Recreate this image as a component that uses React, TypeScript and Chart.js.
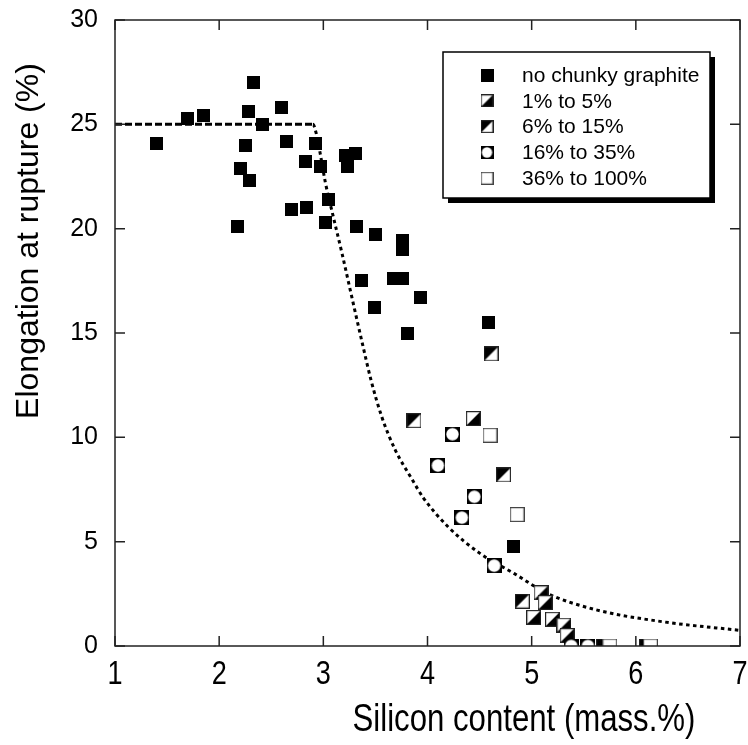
import React, { useEffect, useRef } from 'react';
import { Chart, registerables } from 'chart.js';

Chart.register(...registerables);

// ---- data ----
const seriesLabels = ['no chunky graphite', '1% to 5%', '6% to 15%', '16% to 35%', '36% to 100%'];

const noChunkyX = [1.40, 1.70, 1.85, 2.18, 2.20, 2.25, 2.28, 2.29, 2.33, 2.42, 2.60, 2.65, 2.69, 2.83, 2.84, 2.92, 2.97, 3.02, 3.05, 3.21, 3.23, 3.31, 3.32, 3.37, 3.49, 3.50, 3.67, 3.76, 3.76, 3.76, 3.81, 3.93, 4.59, 4.83];
const noChunkyY = [24.1, 25.3, 25.4, 20.1, 22.9, 24.0, 25.6, 22.3, 27.0, 25.0, 25.8, 24.2, 20.9, 23.2, 21.0, 24.1, 23.0, 20.3, 21.4, 23.5, 23.0, 23.6, 20.1, 17.5, 16.2, 19.7, 17.6, 17.6, 19.45, 19.0, 15.0, 16.7, 15.5, 4.76];

const low1to5X = [4.44, 5.09, 5.13, 5.02, 5.20, 5.31, 5.34];
const low1to5Y = [10.9, 2.55, 2.08, 1.37, 1.28, 1.0, 0.5];

const mid6to15X = [3.87, 4.61, 4.73, 4.91, 5.69, 6.10];
const mid6to15Y = [10.8, 14.0, 8.2, 2.15, 0.0, 0.0];

const high16to35X = [4.10, 4.24, 4.33, 4.45, 4.64, 5.38, 5.54];
const high16to35Y = [8.65, 10.15, 6.15, 7.15, 3.85, 0.0, 0.0];

const full36to100X = [4.60, 4.86, 5.75, 6.14];
const full36to100Y = [10.1, 6.3, 0.0, 0.0];

const curveX = [1.0, 2.90, 2.93, 2.97, 3.02, 3.08, 3.18, 3.27, 3.37, 3.46, 3.56, 3.69, 3.85, 3.96, 4.20, 4.50, 4.83, 5.15, 5.63, 6.26, 7.0];
const curveY = [25.0, 25.0, 24.6, 23.6, 22.2, 20.9, 18.8, 16.8, 14.6, 12.7, 11.0, 9.4, 8.0, 7.1, 5.7, 4.45, 3.48, 2.52, 1.72, 1.16, 0.75];

const xTicks = [1, 2, 3, 4, 5, 6, 7];
const yTicks = [0, 5, 10, 15, 20, 25, 30];

const xTitle = 'Silicon content (mass.%)';
const yTitle = 'Elongation at rupture (%)';

const zip = (xs: number[], ys: number[]) => xs.map((x, i) => ({ x, y: ys[i] }));

type Kind = 'filled' | 'halfLR' | 'halfUL' | 'circle' | 'open';

function makeMarker(kind: Kind, size: number): HTMLCanvasElement {
  const c = document.createElement('canvas');
  c.width = size;
  c.height = size;
  const g = c.getContext('2d') as CanvasRenderingContext2D;
  const s = size;
  if (kind === 'filled') {
    g.fillStyle = '#000';
    g.fillRect(0, 0, s, s);
    return c;
  }
  if (kind === 'circle') {
    g.fillStyle = '#000';
    g.fillRect(0, 0, s, s);
    g.fillStyle = '#fff';
    g.beginPath();
    g.arc(s / 2, s / 2, s / 2 - 1.3, 0, Math.PI * 2);
    g.fill();
    return c;
  }
  g.fillStyle = '#fff';
  g.fillRect(0, 0, s, s);
  g.fillStyle = '#000';
  if (kind === 'halfLR') {
    g.beginPath();
    g.moveTo(s, 0);
    g.lineTo(s, s);
    g.lineTo(0, s);
    g.closePath();
    g.fill();
  } else if (kind === 'halfUL') {
    g.beginPath();
    g.moveTo(0, 0);
    g.lineTo(s, 0);
    g.lineTo(0, s);
    g.closePath();
    g.fill();
  }
  g.strokeStyle = kind === 'open' ? '#444' : '#222';
  g.lineWidth = 1.2;
  g.strokeRect(0.6, 0.6, s - 1.2, s - 1.2);
  return c;
}

const kinds: Kind[] = ['filled', 'halfLR', 'halfUL', 'circle', 'open'];
const dataSizes = [13, 15, 15, 15, 15];

const SANS = '"Liberation Sans", Arial, sans-serif';
const NARROW_SCALE = 0.82;

export default function App() {
  const ref = useRef<HTMLCanvasElement | null>(null);

  useEffect(() => {
    if (!ref.current) return;
    const dataMarkers = kinds.map((k, i) => makeMarker(k, dataSizes[i]));
    const legendMarkers = kinds.map((k) => makeMarker(k, 13));

    const pointSets = [
      zip(noChunkyX, noChunkyY),
      zip(low1to5X, low1to5Y),
      zip(mid6to15X, mid6to15Y),
      zip(high16to35X, high16to35Y),
      zip(full36to100X, full36to100Y),
    ];

    const narrowText = (ctx: CanvasRenderingContext2D, text: string, x: number, y: number) => {
      ctx.save();
      ctx.translate(x, y);
      ctx.scale(NARROW_SCALE, 1);
      ctx.fillText(text, 0, 0);
      ctx.restore();
    };

    const decor = {
      id: 'decor',
      afterDraw(chart: any) {
        const ctx = chart.ctx as CanvasRenderingContext2D;
        const a = chart.chartArea;
        const xs = chart.scales.x;
        const ys = chart.scales.y;
        ctx.save();
        // frame
        ctx.strokeStyle = '#222';
        ctx.lineWidth = 1.5;
        ctx.strokeRect(a.left, a.top, a.right - a.left, a.bottom - a.top);
        // inward ticks
        const tl = 10;
        ctx.beginPath();
        xTicks.forEach((v) => {
          const px = xs.getPixelForValue(v);
          ctx.moveTo(px, a.bottom);
          ctx.lineTo(px, a.bottom - tl);
          ctx.moveTo(px, a.top);
          ctx.lineTo(px, a.top + tl);
        });
        yTicks.forEach((v) => {
          const py = ys.getPixelForValue(v);
          ctx.moveTo(a.left, py);
          ctx.lineTo(a.left + tl, py);
          ctx.moveTo(a.right, py);
          ctx.lineTo(a.right - tl, py);
        });
        ctx.stroke();

        ctx.fillStyle = '#000';
        ctx.textAlign = 'center';
        ctx.textBaseline = 'middle';
        // x tick labels (condensed)
        ctx.font = `33px ${SANS}`;
        xTicks.forEach((v) => {
          narrowText(ctx, String(v), xs.getPixelForValue(v), a.bottom + 29);
        });
        // axis titles
        ctx.font = `38px ${SANS}`;
        narrowText(ctx, xTitle, 524, 721);
        ctx.save();
        ctx.translate(29, 241);
        ctx.rotate(-Math.PI / 2);
        ctx.font = `32px ${SANS}`;
        ctx.fillText(yTitle, 0, 0);
        ctx.restore();

        // legend
        const L = 443, T = 52, R = 710, B = 198;
        ctx.fillStyle = '#000';
        ctx.fillRect(L + 5, T + 5, R - L, B - T);
        ctx.fillStyle = '#fff';
        ctx.fillRect(L, T, R - L, B - T);
        ctx.strokeStyle = '#000';
        ctx.lineWidth = 1.5;
        ctx.strokeRect(L, T, R - L, B - T);
        ctx.font = `21px ${SANS}`;
        ctx.textAlign = 'left';
        ctx.fillStyle = '#000';
        seriesLabels.forEach((lab, i) => {
          const cy = 75 + i * 25.8;
          const m = legendMarkers[i];
          ctx.drawImage(m, 487 - m.width / 2, cy - m.height / 2);
          ctx.fillText(lab, 522, cy + 1);
        });
        ctx.restore();
      },
    };

    const chart = new Chart(ref.current, {
      type: 'scatter',
      data: {
        datasets: [
          {
            label: 'curve',
            data: zip(curveX, curveY),
            showLine: true,
            borderColor: '#000',
            borderWidth: 3,
            pointRadius: 0,
            cubicInterpolationMode: 'monotone',
            segment: {
              borderDash: (c: any) => (c.p1.parsed.x <= 2.9 ? [7, 3] : [3.5, 3.5]),
            },
            order: 10,
          } as any,
          ...pointSets.map((d, i) => ({
            label: seriesLabels[i],
            data: d,
            pointStyle: dataMarkers[i],
            pointRadius: 7,
            showLine: false,
            order: 5 - i,
          })),
        ],
      },
      options: {
        responsive: false,
        animation: false,
        devicePixelRatio: 1,
        layout: { padding: { left: 0, right: 4, top: 20, bottom: 0 } },
        plugins: { legend: { display: false }, tooltip: { enabled: false } },
        scales: {
          x: {
            type: 'linear',
            min: 1,
            max: 7,
            afterBuildTicks: (s: any) => {
              s.ticks = xTicks.map((v) => ({ value: v }));
            },
            ticks: { display: false },
            grid: { display: false, drawTicks: false },
            border: { display: false },
            afterFit: (s: any) => {
              s.height = 99;
              s.paddingLeft = 0;
              s.paddingRight = 0;
            },
          },
          y: {
            type: 'linear',
            min: 0,
            max: 30,
            afterBuildTicks: (s: any) => {
              s.ticks = yTicks.map((v) => ({ value: v }));
            },
            ticks: {
              font: { family: SANS, size: 25 },
              color: '#000',
              padding: 17,
            },
            grid: { display: false, drawTicks: false },
            border: { display: false },
            afterFit: (s: any) => {
              s.width = 115;
              s.paddingTop = 0;
              s.paddingBottom = 0;
            },
          },
        },
      },
      plugins: [decor],
    } as any);
    return () => chart.destroy();
  }, []);

  return (
    <div style={{ position: 'fixed', left: 0, top: 0, width: 748, height: 745, background: '#fff' }}>
      <canvas ref={ref} width={748} height={745} style={{ display: 'block' }} />
    </div>
  );
}
